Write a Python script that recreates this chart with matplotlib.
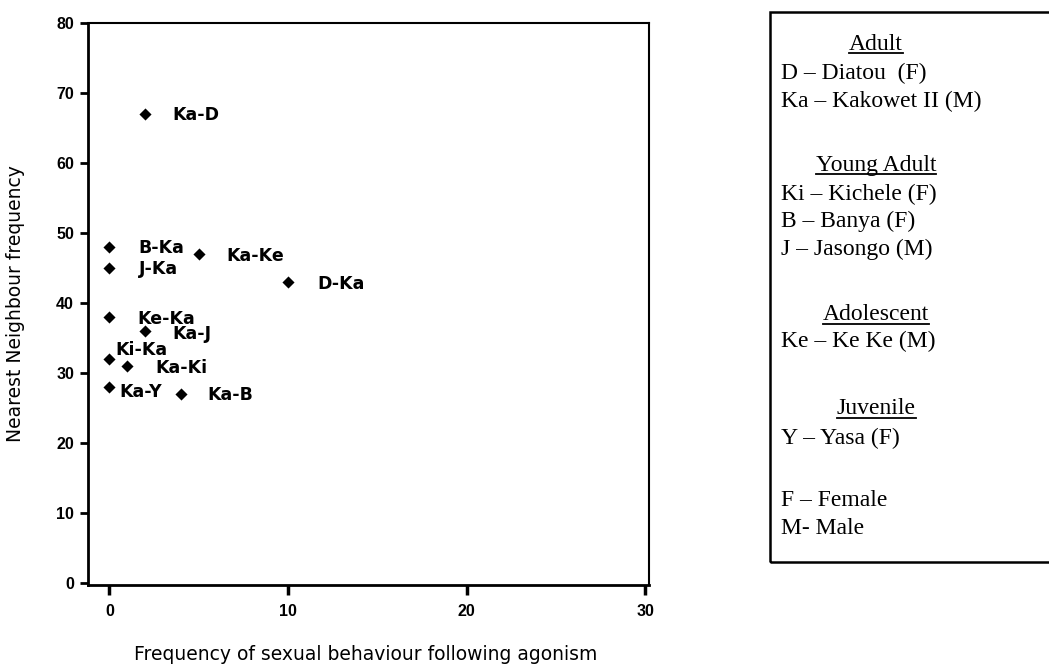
import matplotlib
matplotlib.use("Agg")
import matplotlib.pyplot as plt
from matplotlib.lines import Line2D
from matplotlib.patches import Rectangle

# ---------------- data ----------------
pair_labels = ["Ka-D", "B-Ka", "J-Ka", "Ka-Ke", "D-Ka", "Ke-Ka", "Ka-J",
               "Ki-Ka", "Ka-Ki", "Ka-Y", "Ka-B"]
sexual_freq = [2, 0, 0, 5, 10, 0, 2, 0, 1, 0, 4]
neighbour_freq = [67, 48, 45, 47, 43, 38, 36, 32, 31, 28, 27]

x_ticks = [0, 10, 20, 30]
y_ticks = [0, 10, 20, 30, 40, 50, 60, 70, 80]

x_label = "Frequency of sexual behaviour following agonism"
y_label = "Nearest Neighbour frequency"

key_lines = [
    ("head", "Adult"),
    ("item", "D \u2013 Diatou  (F)"),
    ("item", "Ka \u2013 Kakowet II (M)"),
    ("head", "Young Adult"),
    ("item", "Ki \u2013 Kichele (F)"),
    ("item", "B \u2013 Banya (F)"),
    ("item", "J \u2013 Jasongo (M)"),
    ("head", "Adolescent"),
    ("item", "Ke \u2013 Ke Ke (M)"),
    ("head", "Juvenile"),
    ("item", "Y \u2013 Yasa (F)"),
    ("item", "F \u2013 Female"),
    ("item", "M- Male"),
]

# ---------------- layout (pixels) ----------------
W, H = 1049, 666
# label offsets in pixels (dx right, dy up) relative to marker
label_offsets = {
    "Ka-D": (27, 0), "B-Ka": (29, 0), "J-Ka": (29, 0), "Ka-Ke": (28, -1),
    "D-Ka": (29, -1), "Ke-Ka": (28, -1), "Ka-J": (27, -2), "Ki-Ka": (6, 10),
    "Ka-Ki": (28, -1), "Ka-Y": (10, -4), "Ka-B": (26, 0),
}
key_line_y = [42, 72, 100, 163, 193, 220, 248, 313, 340, 407, 437, 498, 527]


def fx(px):
    return px / W


def fy(py):
    return 1 - py / H


fig = plt.figure(figsize=(W / 100, H / 100), dpi=100)
ax = fig.add_axes([fx(88), fy(585), (649 - 88) / W, (585 - 23) / H])

ax.scatter(sexual_freq, neighbour_freq, marker="D", s=38, color="black",
           linewidths=0, zorder=3)

for lab, xv, yv in zip(pair_labels, sexual_freq, neighbour_freq):
    dx, dy = label_offsets[lab]
    ax.annotate(lab, (xv, yv), xytext=(dx, dy - 6.3), textcoords="offset pixels",
                ha="left", va="baseline", fontsize=12.5, fontweight="bold",
                family="DejaVu Sans", color="black")

ax.set_xlim(-1.2, 30.2)
ax.set_ylim(-0.33, 80)
ax.set_xticks(x_ticks)
ax.set_yticks(y_ticks)
ax.set_xticklabels([str(t) for t in x_ticks], fontsize=11.5, fontweight="bold",
                   family="Liberation Sans")
ax.set_yticklabels([str(t) for t in y_ticks], fontsize=11.5, fontweight="bold",
                   family="Liberation Sans")
ax.tick_params(axis="x", direction="out", length=7, width=2.5, pad=7)
ax.tick_params(axis="y", direction="out", length=6, width=2, pad=4)
for side, sp in ax.spines.items():
    sp.set_color("black")
    sp.set_linewidth(2 if side in ("left", "bottom") else 1.5)

fig.text(fx(366), fy(654), x_label, ha="center", va="center", fontsize=13.5,
         family="DejaVu Sans")
fig.text(fx(16), fy(304), y_label, ha="center", va="center", rotation=90,
         fontsize=13.5, family="DejaVu Sans")

# ---------------- key box ----------------
box = Rectangle((fx(770), fy(562)), fx(1060 - 770), (562 - 12) / H,
                transform=fig.transFigure, fill=False, edgecolor="black",
                linewidth=1.8, clip_on=False)
fig.add_artist(box)

fig.canvas.draw()
renderer = fig.canvas.get_renderer()
key_fs = 17
for (kind, txt), ly in zip(key_lines, key_line_y):
    base = ly + 7.5
    if kind == "head":
        t = fig.text(fx(876), fy(base), txt, ha="center", va="baseline",
                     fontsize=key_fs, family="Liberation Serif")
        bb = t.get_window_extent(renderer)
        uy = base + 3
        fig.add_artist(Line2D([bb.x0 / W, bb.x1 / W], [fy(uy), fy(uy)],
                              transform=fig.transFigure, color="black",
                              linewidth=1.3))
    else:
        fig.text(fx(781), fy(base), txt, ha="left", va="baseline",
                 fontsize=key_fs, family="Liberation Serif")

fig.savefig("out.png", dpi=100)
